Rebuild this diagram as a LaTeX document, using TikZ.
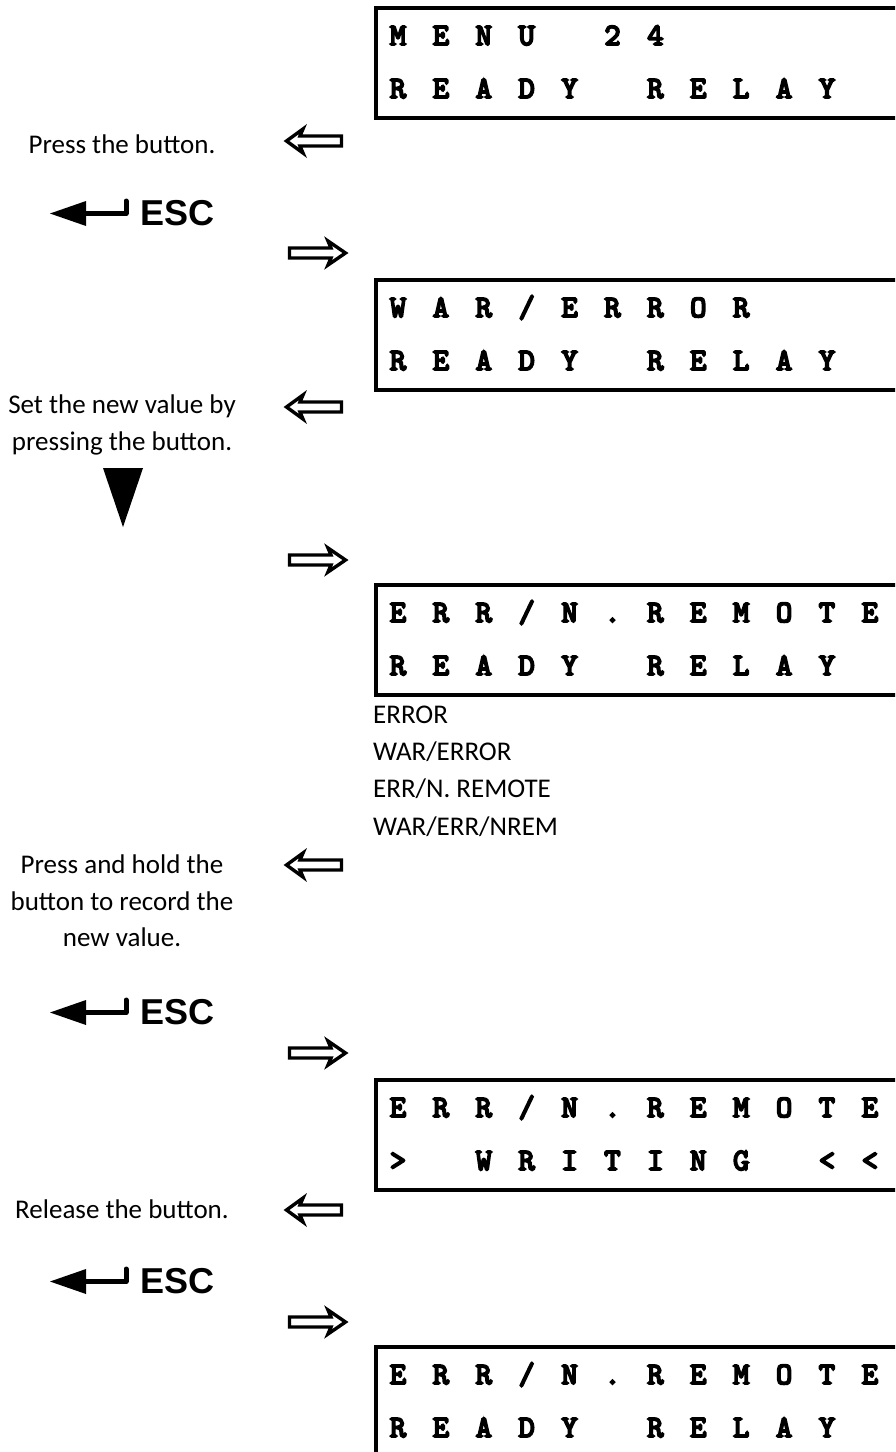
\documentclass[tikz,border=0pt]{standalone}
\usepackage{fontspec}
\setmainfont{Carlito}
\newfontfamily\escfont{Liberation Sans}
\newfontfamily\lcdfont{lmmono10-regular.otf}[FakeBold=6]
\tikzset{
  lcdframe/.style={line width=4pt},
  lcdchar/.style={font=\lcdfont\fontsize{31}{31}\selectfont, anchor=base, inner sep=0pt},
  note/.style={font=\fontsize{27}{30}\selectfont, anchor=base, inner sep=0pt},
  listitem/.style={note, anchor=base west},
  hollow/.style={line width=3.4pt, fill=white, line join=miter},
  esckey/.style={font=\escfont\bfseries\fontsize{36}{36}\selectfont, anchor=base west, inner sep=0pt},
}
% one row of the display, one character per cell
\newcommand{\lcdline}[3]{%
  \foreach \glyph [count=\col] in {#3}
    \node[lcdchar] (#1-\col) at ({398+42.9*(\col-1)}, #2) {\glyph};
}
\begin{document}
\begin{tikzpicture}[x=1pt, y=-1pt]
  \useasboundingbox (0,0) rectangle (895,1452);
  \clip (0,0) rectangle (895,1452);

  % Display 1
  \draw[lcdframe] (900,8) -- (375.5,8) -- (375.5,118) -- (900,118);
  \lcdline{da}{45}{M,E,N,U,,2,4}
  \lcdline{db}{98}{R,E,A,D,Y,,R,E,L,A,Y}

  % Display 2
  \draw[lcdframe] (900,280) -- (375.5,280) -- (375.5,390) -- (900,390);
  \lcdline{dc}{317}{W,A,R,/,E,R,R,O,R}
  \lcdline{dd}{370}{R,E,A,D,Y,,R,E,L,A,Y}

  % Display 3 and its choices
  \draw[lcdframe] (900,585) -- (375.5,585) -- (375.5,695) -- (900,695);
  \lcdline{de}{622}{E,R,R,/,N,.,R,E,M,O,T,E}
  \lcdline{df}{675}{R,E,A,D,Y,,R,E,L,A,Y}
  \node[listitem] (opt1) at (373,723) {ERROR};
  \node[listitem] (opt2) at (373,760) {WAR/ERROR};
  \node[listitem] (opt3) at (373,797) {ERR/N. REMOTE};
  \node[listitem] (opt4) at (373,835) {WAR/ERR/NREM};

  % Display 4
  \draw[lcdframe] (900,1080) -- (375.5,1080) -- (375.5,1190) -- (900,1190);
  \lcdline{dg}{1117}{E,R,R,/,N,.,R,E,M,O,T,E}
  \lcdline{dh}{1170}{>,,W,R,I,T,I,N,G,,<,<}

  % Display 5
  \draw[lcdframe] (900,1347) -- (375.5,1347) -- (375.5,1460);
  \lcdline{di}{1384}{E,R,R,/,N,.,R,E,M,O,T,E}
  \lcdline{dj}{1437}{R,E,A,D,Y,,R,E,L,A,Y}

  % Instructions
  \node[note] (press) at (122,153) {Press the button.};
  \node[note] (seta) at (122,413) {Set the new value by};
  \node[note] (setb) at (122,450) {pressing the button.};
  \node[note] (holda) at (122,873) {Press and hold the};
  \node[note] (holdb) at (122,910) {button to record the};
  \node[note] (holdc) at (122,946) {new value.};
  \node[note] (release) at (122,1218) {Release the button.};

  % Down key
  \fill (103,468) -- (143,468) -- (123,527) -- cycle;

  % ESC key
  \foreach \c in {212,1011,1280} {
    \fill (50,\c+1.5) -- (86,\c-11) -- (86,\c+14) -- cycle;
    \draw[line width=5pt, line join=round, line cap=round] (84,\c+1.5) -- (126,\c+1.5) -- (126,\c-11);
    \node[esckey] (esc-\c) at (140,\c+13) {ESC};
  }

  % Hollow arrows, to the left and to the right
  \foreach \c in {141,407,865,1210}
    \draw[hollow] (341.5,\c-5) -- (300,\c-5) -- (303,\c-12) -- (286.5,\c)
      -- (303,\c+12) -- (300,\c+5) -- (341.5,\c+5) -- cycle;
  \foreach \c in {253,560,1053,1322}
    \draw[hollow] (289.5,\c-5) -- (331,\c-5) -- (328,\c-12) -- (345.5,\c)
      -- (328,\c+12) -- (331,\c+5) -- (289.5,\c+5) -- cycle;
\end{tikzpicture}
\end{document}
